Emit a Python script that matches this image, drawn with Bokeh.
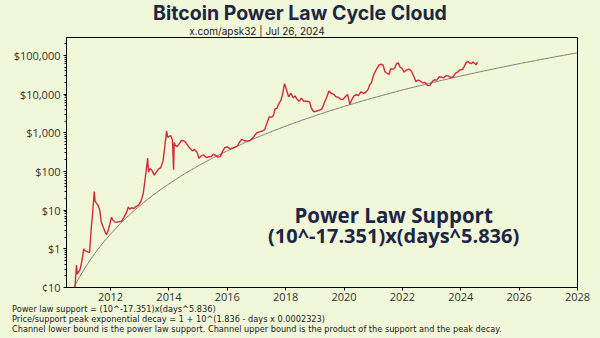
import numpy as np
from bokeh.plotting import figure
from bokeh.models import Range1d, FixedTicker, CustomJSTickFormatter, Label, Div
from bokeh.layouts import column
from bokeh.embed import file_html
from bokeh.resources import INLINE

# ---- data (decimal year, BTC price in USD) ----
price_years = [2010.54, 2010.60, 2010.70, 2010.78, 2010.83, 2010.86, 2010.90, 2010.96, 2011.02, 2011.08,
               2011.12, 2011.20, 2011.28, 2011.34, 2011.38, 2011.42, 2011.44, 2011.47, 2011.52, 2011.58,
               2011.63, 2011.68, 2011.74, 2011.80, 2011.86, 2011.92, 2011.97, 2012.03, 2012.08, 2012.15,
               2012.22, 2012.30, 2012.38, 2012.46, 2012.54, 2012.61, 2012.66, 2012.72, 2012.80, 2012.88,
               2012.96, 2013.04, 2013.12, 2013.18, 2013.24, 2013.27, 2013.30, 2013.35, 2013.42, 2013.50,
               2013.56, 2013.64, 2013.72, 2013.80, 2013.86, 2013.92, 2013.96, 2014.00, 2014.06, 2014.12,
               2014.16, 2014.18, 2014.22, 2014.28, 2014.34, 2014.42, 2014.48, 2014.56, 2014.64, 2014.72,
               2014.80, 2014.88, 2014.96, 2015.03, 2015.10, 2015.18, 2015.28, 2015.38, 2015.46, 2015.52,
               2015.60, 2015.68, 2015.76, 2015.84, 2015.92, 2016.00, 2016.10, 2016.22, 2016.34, 2016.44,
               2016.50, 2016.58, 2016.68, 2016.78, 2016.88, 2016.96, 2017.02, 2017.10, 2017.20, 2017.28,
               2017.36, 2017.44, 2017.52, 2017.58, 2017.64, 2017.70, 2017.76, 2017.84, 2017.90, 2017.96,
               2018.02, 2018.10, 2018.18, 2018.26, 2018.32, 2018.38, 2018.46, 2018.54, 2018.62, 2018.72,
               2018.82, 2018.88, 2018.96, 2019.04, 2019.14, 2019.24, 2019.32, 2019.40, 2019.48, 2019.56,
               2019.64, 2019.72, 2019.80, 2019.88, 2019.96, 2020.04, 2020.12, 2020.20, 2020.26, 2020.34,
               2020.42, 2020.50, 2020.58, 2020.66, 2020.74, 2020.82, 2020.88, 2020.94, 2021.00, 2021.06,
               2021.12, 2021.20, 2021.28, 2021.34, 2021.40, 2021.46, 2021.54, 2021.60, 2021.68, 2021.74,
               2021.80, 2021.86, 2021.92, 2021.98, 2022.06, 2022.14, 2022.22, 2022.30, 2022.38, 2022.46,
               2022.54, 2022.62, 2022.70, 2022.78, 2022.86, 2022.94, 2023.02, 2023.10, 2023.18, 2023.26,
               2023.34, 2023.42, 2023.50, 2023.58, 2023.66, 2023.74, 2023.82, 2023.90, 2023.98, 2024.06,
               2024.12, 2024.18, 2024.24, 2024.30, 2024.36, 2024.42, 2024.48, 2024.53, 2024.57]
price_usd = [0.05, 0.07, 0.06, 0.10, 0.38, 0.22, 0.25, 0.30, 0.50, 1.00,
             0.90, 0.85, 0.80, 3.5, 7.5, 18.0, 30.0, 17.0, 15.0, 13.0,
             10.0, 5.0, 3.8, 2.9, 2.3, 3.0, 4.2, 6.5, 5.6, 4.9,
             4.9, 5.0, 5.2, 6.5, 8.5, 12.0, 10.5, 11.5, 11.0, 12.5,
             13.5, 17.0, 27.0, 60.0, 140.0, 220.0, 95.0, 120.0, 105.0, 80.0,
             95.0, 115.0, 125.0, 190.0, 450.0, 1100.0, 750.0, 800.0, 850.0, 650.0,
             110.0, 560.0, 470.0, 440.0, 500.0, 620.0, 630.0, 580.0, 480.0, 400.0,
             340.0, 370.0, 320.0, 220.0, 250.0, 270.0, 230.0, 240.0, 245.0, 280.0,
             260.0, 235.0, 245.0, 330.0, 420.0, 430.0, 380.0, 410.0, 450.0, 600.0,
             680.0, 620.0, 610.0, 630.0, 740.0, 900.0, 1000.0, 1050.0, 1100.0, 1200.0,
             1800.0, 2600.0, 2500.0, 2800.0, 4200.0, 4300.0, 5500.0, 7000.0, 10500.0, 18500.0,
             13500.0, 8500.0, 10500.0, 8000.0, 9000.0, 7500.0, 6500.0, 7800.0, 6500.0, 6500.0,
             6300.0, 4300.0, 3500.0, 3600.0, 3800.0, 4100.0, 5800.0, 8000.0, 12000.0, 10500.0,
             10000.0, 8500.0, 8300.0, 7400.0, 7200.0, 8500.0, 9800.0, 5500.0, 7000.0, 9000.0,
             9600.0, 9200.0, 11500.0, 10500.0, 11000.0, 13000.0, 17500.0, 19500.0, 29000.0, 37000.0,
             45000.0, 57000.0, 59000.0, 56000.0, 38000.0, 35000.0, 32000.0, 45000.0, 44000.0, 48000.0,
             61000.0, 64000.0, 50000.0, 47000.0, 37000.0, 42000.0, 44000.0, 40000.0, 30000.0, 21000.0,
             23000.0, 21500.0, 19500.0, 20000.0, 16500.0, 16800.0, 21000.0, 23500.0, 23000.0, 28000.0,
             27500.0, 26500.0, 30000.0, 29000.0, 26500.0, 28000.0, 34500.0, 37500.0, 42500.0, 43000.0,
             52000.0, 65000.0, 70000.0, 64000.0, 61000.0, 67000.0, 62000.0, 57000.0, 67000.0]

support_coef_exp = -17.351
support_power = 5.836
genesis_year = 2009.0082

x_ticks = [2012, 2014, 2016, 2018, 2020, 2022, 2024, 2026, 2028]
y_ticks = [0.1, 1, 10, 100, 1000, 10000, 100000]

title_text = "Bitcoin Power Law Cycle Cloud"
subtitle_text = "x.com/apsk32 | Jul 26, 2024"
annot_lines = ["Power Law Support", "(10^-17.351)x(days^5.836)"]
footer = ["Power law support = (10^-17.351)x(days^5.836)",
          "Price/support peak exponential decay = 1 + 10^(1.836 - days x 0.0002323)",
          "Channel lower bound is the power law support. Channel upper bound is the product of the support and the peak decay."]

BG = "#f1f7d9"
NAVY = "#1d2642"
FONT = "Open Sans"
HEAD_FONT = "Inter"
FOOT_FONT = "DejaVu Sans"

p = figure(width=600, height=266, y_axis_type="log", output_backend="svg",
           toolbar_location=None, x_range=Range1d(2010.49, 2028.0),
           y_range=Range1d(0.1, 2.9e5),
           min_border_left=66, min_border_right=23, min_border_top=0, min_border_bottom=15,
           margin=0)
p.background_fill_color = BG
p.border_fill_color = BG
p.outline_line_color = "black"
p.outline_line_width = 1
p.grid.visible = False

# support line
sx = np.linspace(2010.6, 2028.0, 400)
days = (sx - genesis_year) * 365.25
sy = 10 ** support_coef_exp * days ** support_power
p.line(sx, sy, line_color="#7a7a7a", line_width=1)

# price
p.line(price_years, price_usd, line_color="#d42a3a", line_width=1.4)

# axes
p.xaxis.ticker = FixedTicker(ticks=x_ticks)
p.yaxis.ticker = FixedTicker(ticks=y_ticks,
                             minor_ticks=[m * 10.0 ** e for e in range(-1, 6) for m in range(2, 10)])
p.yaxis.formatter = CustomJSTickFormatter(code="""
    if (tick < 1) { return '\u00a2' + Math.round(tick * 100); }
    return '$' + Math.round(tick).toLocaleString('en-US');
""")
for ax in (p.xaxis[0], p.yaxis[0]):
    ax.axis_line_color = "black"
    ax.major_tick_line_color = "black"
    ax.minor_tick_line_color = "black"
    ax.major_tick_out = 3
    ax.major_tick_in = 0
    ax.minor_tick_out = 2
    ax.minor_tick_in = 0
    ax.major_label_text_font = FONT
    ax.major_label_text_font_size = "11px"
    ax.major_label_text_color = "#333333"
p.xaxis.minor_tick_line_color = None
p.xaxis.major_label_standoff = 2
p.yaxis.major_label_standoff = 3

# annotation inside the plot
p.add_layout(Label(x=2021.7, y=7.7, text=annot_lines[0], text_align="center",
                   text_baseline="middle", text_font=FONT, text_font_size="20.5px",
                   text_font_style="bold", text_color=NAVY))
p.add_layout(Label(x=2021.7, y=2.15, text=annot_lines[1], text_align="center",
                   text_baseline="middle", text_font=FONT, text_font_size="20px",
                   text_font_style="bold", text_color=NAVY))

# header and footer as HTML blocks
def abs_line(text, top, size, lh, weight, color, font, left=None, center=None):
    pos = f"left:{left}px;" if left is not None else f"left:{center - 300}px;width:600px;text-align:center;"
    return (f"<div style=\"position:absolute;top:{top}px;{pos}white-space:nowrap;"
            f"font-family:'{font}';font-size:{size}px;font-weight:{weight};color:{color};"
            f"line-height:{lh}px;\">{text}</div>")

header_html = ("<div style=\"position:relative;width:600px;height:37px;\">"
               + abs_line(title_text, 2.0, 19.5, 22, 700, NAVY, HEAD_FONT, center=300)
               + abs_line(subtitle_text, 24.96, 10, 12, 400, "#222222", HEAD_FONT, center=257)
               + "</div>")
footer_html = ("<div style=\"position:relative;width:600px;height:35px;\">"
               + "".join(abs_line(t, top, 8.2, 8.2, 400, "#222222", FOOT_FONT, left=12)
                         for t, top in zip(footer, [2.4, 12.4, 21.9]))
               + "</div>")

header = Div(text=header_html, width=600, height=37, margin=0,
             styles={"background-color": BG})
footer_div = Div(text=footer_html, width=600, height=35, margin=0,
                 styles={"background-color": BG})

layout = column(header, p, footer_div, spacing=0, margin=0,
                styles={"background-color": BG})

open("out.html", "w").write(file_html(layout, INLINE))
